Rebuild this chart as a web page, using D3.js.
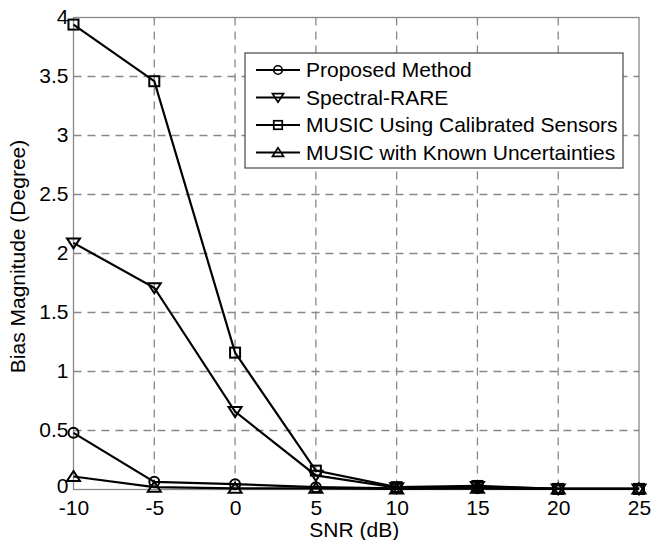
<!DOCTYPE html>
<html>
<head>
<meta charset="utf-8">
<script src="https://cdn.jsdelivr.net/npm/d3@7"></script>
<style>
  body { margin: 0; background: #fff; }
  text { font-family: "Liberation Sans", Arial, sans-serif; fill: #000; }
</style>
</head>
<body>
<div class="chart"></div>
<script>
var margin = {top: 17.5, right: 15, bottom: 50.5, left: 73.5},
  width = 654 - margin.left - margin.right,
  height = 540 - margin.top - margin.bottom;

const snr = [-10, -5, 0, 5, 10, 15, 20, 25];
const xTicks = [-10, -5, 0, 5, 10, 15, 20, 25];
const yTicks = [0, 0.5, 1, 1.5, 2, 2.5, 3, 3.5, 4];
const seriesNames = ['Proposed Method', 'Spectral-RARE', 'MUSIC Using Calibrated Sensors', 'MUSIC with Known Uncertainties'];
const proposed = [0.48, 0.065, 0.045, 0.02, 0.01, 0.01, 0.005, 0.005];
const rare = [2.09, 1.71, 0.66, 0.12, 0.015, 0.025, 0.005, 0.005];
const calibrated = [3.94, 3.46, 1.16, 0.16, 0.02, 0.03, 0.005, 0.005];
const known = [0.11, 0.02, 0.01, 0.01, 0.005, 0.01, 0.005, 0.005];
const markers = ['circle', 'tridown', 'square', 'triup'];

var series = [proposed, rare, calibrated, known].map(function(vals, i) {
  return {name: seriesNames[i], marker: markers[i], values: vals.map(function(v, j) { return {x: snr[j], y: v}; })};
});

var svg = d3.select('.chart').append('svg')
  .attr('width', 654).attr('height', 540)
  .append('g')
  .attr('transform', 'translate(' + margin.left + ',' + margin.top + ')');

var x = d3.scaleLinear().domain([-10, 25]).range([0, width]);
var y = d3.scaleLinear().domain([0, 4]).range([height, 0]);

// grid
svg.append('g').selectAll('line.gx')
  .data(xTicks.slice(1, -1)).enter().append('line')
  .attr('x1', d => x(d)).attr('x2', d => x(d))
  .attr('y1', 0).attr('y2', height)
  .style('stroke', '#888').style('stroke-width', 1.3).style('stroke-dasharray', '8,6');
svg.append('g').selectAll('line.gy')
  .data(yTicks.slice(1, -1)).enter().append('line')
  .attr('y1', d => y(d)).attr('y2', d => y(d))
  .attr('x1', 0).attr('x2', width)
  .style('stroke', '#888').style('stroke-width', 1.3).style('stroke-dasharray', '8,6');

// box
svg.append('rect').attr('width', width).attr('height', height)
  .style('fill', 'none').style('stroke', '#888').style('stroke-width', 1.3);

// axes (plain hyphen for negatives, like the original)
var xAxis = svg.append('g').attr('transform', 'translate(0,' + height + ')')
  .call(d3.axisBottom(x).tickValues(xTicks).tickSize(0).tickPadding(11).tickFormat(d => String(d)));
var yAxis = svg.append('g')
  .call(d3.axisLeft(y).tickValues(yTicks).tickSize(0).tickPadding(5).tickFormat(d => String(d)));
[xAxis, yAxis].forEach(function(a) {
  a.select('.domain').remove();
  a.selectAll('text').style('font-size', '21px').style('font-family', '"Liberation Sans", Arial, sans-serif');
});
// nudge the "0" up a bit so it doesn't sit on top of "-10"
yAxis.selectAll('text').attr('dy', d => d === 0 ? '0.12em' : '0.3em');

svg.append('text')
  .attr('x', width / 2 - 2).attr('y', height + 47)
  .attr('text-anchor', 'middle').style('font-size', '21px')
  .text('SNR (dB)');
svg.append('text')
  .attr('transform', 'rotate(-90)')
  .attr('x', -239).attr('y', -48.5)
  .attr('text-anchor', 'middle').style('font-size', '21px')
  .text('Bias Magnitude (Degree)');

function drawMarker(g, type) {
  if (type === 'circle') {
    g.append('circle').attr('r', 5);
  } else if (type === 'square') {
    g.append('rect').attr('x', -5).attr('y', -5).attr('width', 10).attr('height', 10);
  } else if (type === 'tridown') {
    g.append('path').attr('d', 'M-6.5,-4.5L6.5,-4.5L0,5.5Z');
  } else {
    g.append('path').attr('d', 'M-6.5,4.5L6.5,4.5L0,-5.5Z');
  }
  g.selectAll('*').style('fill', 'none').style('stroke', '#000').style('stroke-width', 2);
}

var line = d3.line().x(d => x(d.x)).y(d => y(d.y));

series.forEach(function(s) {
  svg.append('path').datum(s.values)
    .attr('d', line)
    .style('fill', 'none').style('stroke', '#000').style('stroke-width', 2.2);
});
series.forEach(function(s) {
  s.values.forEach(function(d) {
    var g = svg.append('g').attr('transform', 'translate(' + x(d.x) + ',' + y(d.y) + ')');
    drawMarker(g, s.marker);
  });
});

// legend
var lx = 245 - margin.left, ly = 53 - margin.top;
svg.append('rect').attr('x', lx).attr('y', ly).attr('width', 378).attr('height', 115)
  .style('fill', '#fff').style('stroke', '#555').style('stroke-width', 1.3);
series.forEach(function(s, i) {
  var cy = ly + 17 + i * 27.5;
  var g = svg.append('g').attr('transform', 'translate(' + (lx + 11) + ',' + cy + ')');
  g.append('line').attr('x1', 0).attr('x2', 44).attr('y1', 0).attr('y2', 0)
    .style('stroke', '#000').style('stroke-width', 2.2);
  var m = g.append('g').attr('transform', 'translate(22,0) scale(0.85)');
  drawMarker(m, s.marker);
  g.append('text').attr('x', 50).attr('y', 0).attr('dy', '0.35em')
    .style('font-size', '21px').text(s.name);
});
</script>
</body>
</html>
